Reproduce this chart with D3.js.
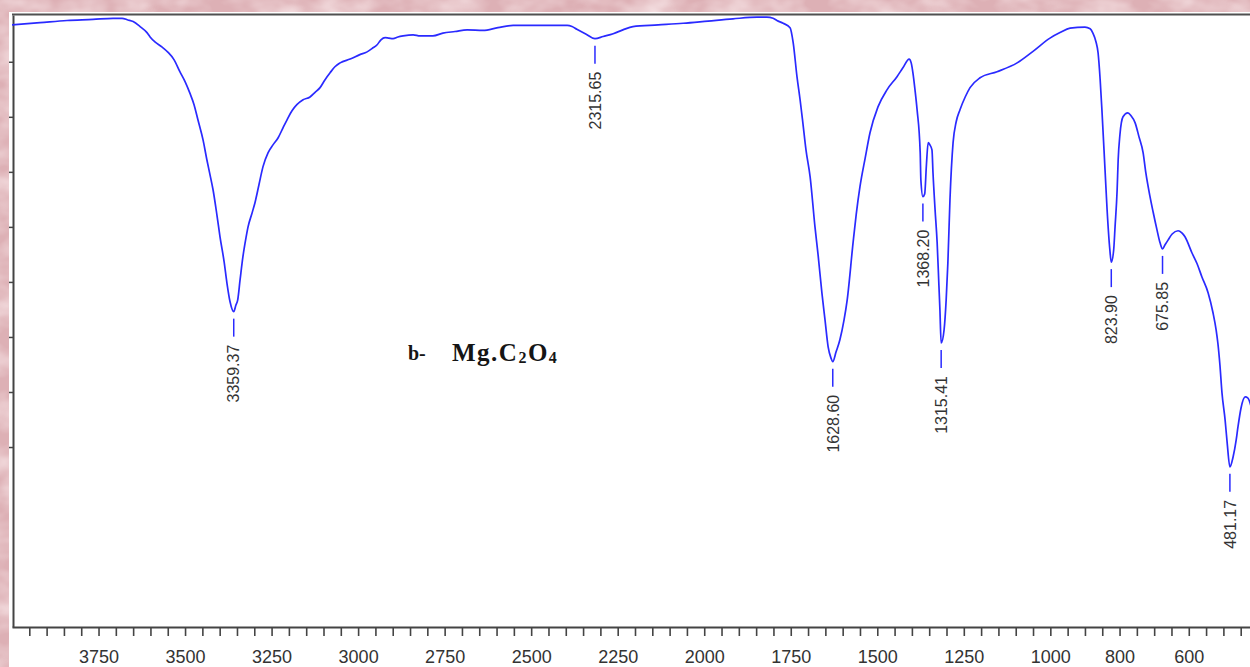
<!DOCTYPE html>
<html>
<head>
<meta charset="utf-8">
<script src="https://cdn.jsdelivr.net/npm/d3@7"></script>
<style>
  html, body { margin: 0; padding: 0; background: #e2b6ba; overflow: hidden; }
  svg { display: block; }
</style>
</head>
<body>
<script>
// ---- Data ----
const wavenumber = [4000,3919,3841,3766,3708,3682,3665,3650,3630,3610,3601,3587,3567,3549,3532,3515,3500,3486,3474,3463,3448,3437,3428,3419,3408,3399,3387,3379,3370,3359.37,3353,3348,3341,3333,3324,3318,3307,3298,3286,3275,3260,3246,3231,3217,3205,3191,3177,3159,3139,3125,3110,3096,3081,3067,3052,3023,2995,2974,2960,2945,2934,2922,2911,2899,2885,2870,2841,2821,2784,2755,2720,2685,2639,2596,2552,2474,2396,2382,2368,2341,2315.65,2292,2263,2235,2206,2133,2061,1989,1917,1847,1819,1801,1790,1772,1752,1743,1732,1723,1715,1706,1694,1680,1671,1660,1651,1642,1634,1628.60,1619,1608,1596,1587,1570,1561,1550,1535,1521,1498,1472,1443,1426,1408,1402,1397,1391,1385,1376,1374,1368.20,1363,1358,1353,1348,1342,1339,1333,1327,1322,1319,1315.41,1307,1301,1296,1290,1281,1272,1261,1246,1232,1203,1154,1096,1050,1001,972,943,900,885,877,868,862,856,851,842,836,828,823.90,817,813,807,804,799,790,776,767,755,744,732,724,712,703,692,683,675.85,669,660,648,631,620,611,591,576,562,544,530,521,516,510,504,495,489,481.17,472,463,458,449,437,429,417,406,400];
const transmittance = [96.7,97.1,97.5,97.7,97.9,97.9,97.6,97.3,96.4,95.3,94.5,93.6,92.7,91.7,90.4,88.2,86.4,84.3,82.2,79.5,75.8,72.2,69.5,66.7,62.2,58.2,53.6,49.8,46.4,44.6,45.8,46.7,50.4,54.5,58.0,60.0,62.4,64.4,67.8,70.9,73.5,74.9,76.2,78.0,79.5,81.1,82.2,83.1,83.6,84.4,85.3,86.7,88.0,89.1,89.8,90.5,91.3,91.8,92.4,93.1,94.0,94.4,94.3,94.2,94.5,94.7,94.9,94.7,94.7,95.2,95.5,95.8,95.7,96.2,96.6,96.6,96.6,96.4,95.9,95.0,94.2,94.6,95.1,95.8,96.4,96.7,97.0,97.4,97.8,98.1,98.1,97.9,97.5,97.0,96.2,93.5,87.3,83.1,78.9,74.0,69.1,60.0,54.9,48.0,43.1,38.2,36.2,35.5,37.3,39.5,43.1,46.7,57.1,62.2,67.3,72.5,77.1,81.8,84.9,87.3,88.9,90.5,89.8,88.0,84.9,81.3,73.5,68.5,65.5,66.0,71.3,75.3,74.9,74.0,69.8,63.1,57.1,49.5,44.9,38.9,41.3,46.7,53.5,64.9,75.3,79.1,81.3,83.6,85.3,87.1,88.2,89.8,91.9,94.3,95.3,96.1,96.3,96.0,95.2,93.6,91.6,86.7,81.3,70.4,63.1,55.8,53.6,55.8,60.0,66.7,72.2,76.7,80.0,80.7,80.2,78.9,76.4,73.5,69.8,65.5,62.7,59.5,57.1,56.0,56.7,57.6,58.7,59.3,58.9,58.2,55.3,53.3,50.9,48.0,44.4,41.3,38.9,34.9,29.8,24.9,20.7,16.4,18.2,21.3,23.6,27.1,29.1,28.9,26.7,24.0,22.7];

const peakWavenumbers = [3359.37, 2315.65, 1628.60, 1368.20, 1315.41, 823.90, 675.85, 481.17];
const peakLabels = ["3359.37", "2315.65", "1628.60", "1368.20", "1315.41", "823.90", "675.85", "481.17"];

const xTickLabels = [3750, 3500, 3250, 3000, 2750, 2500, 2250, 2000, 1750, 1500, 1250, 1000, 800, 600];
const yTickValues = [20, 30, 40, 50, 60, 70, 80, 90];
const xDomain = [4000, 400];
const yDomain = [-12.7, 98.5];

// ---- Drawing ----
const W = 1250, H = 667;
const svg = d3.select("body").append("svg").attr("width", W).attr("height", H);

const defs = svg.append("defs");
const f = defs.append("filter").attr("id", "marble").attr("x", 0).attr("y", 0).attr("width", 1).attr("height", 1);
f.append("feTurbulence").attr("type", "fractalNoise").attr("baseFrequency", "0.025 0.04").attr("numOctaves", 3).attr("seed", 7);
f.append("feColorMatrix").attr("type", "matrix")
  .attr("values", "0 0 0 0 0.96  0 0 0 0 0.84  0 0 0 0 0.85  1.4 0 0 0 -0.5");

svg.append("rect").attr("width", W).attr("height", H).attr("fill", "#ddb0b5");
svg.append("rect").attr("width", W).attr("height", H).attr("filter", "url(#marble)");

// white sheet
svg.append("rect").attr("x", 9).attr("y", 12).attr("width", W - 9).attr("height", H - 12).attr("fill", "#ffffff");

const x = d3.scaleLinear().domain(xDomain).range([12, 1258]);
const y = d3.scaleLinear().domain(yDomain).range([627, 15]);

// top border
svg.append("line").attr("x1", 12).attr("x2", W).attr("y1", 14.5).attr("y2", 14.5)
  .attr("stroke", "#505050").attr("stroke-width", 2);

// left axis
const yAxis = svg.append("g").attr("transform", "translate(13,0)")
  .call(d3.axisLeft(y).tickValues(yTickValues).tickSize(4).tickSizeOuter(0).tickFormat(""));
yAxis.select(".domain").attr("stroke", "#444").attr("stroke-width", 2);
yAxis.selectAll(".tick line").attr("stroke", "#444").attr("stroke-width", 1.5);

// bottom axis
const xTicks = d3.range(3950, 400, -50);
const xAxis = svg.append("g").attr("transform", "translate(0,627)")
  .call(d3.axisBottom(x).tickValues(xTicks).tickSize(9).tickSizeOuter(0).tickPadding(14)
    .tickFormat(d => xTickLabels.includes(d) ? String(d) : ""));
xAxis.select(".domain").attr("stroke", "#444").attr("stroke-width", 2);
xAxis.selectAll(".tick line").attr("stroke", "#444").attr("stroke-width", 1.6);
xAxis.selectAll(".tick text").attr("fill", "#333").attr("font-size", 18)
  .attr("font-family", "'Liberation Sans', Arial, sans-serif");

// spectrum line
const data = wavenumber.map((w, i) => ({ w, t: transmittance[i] }));
svg.append("defs").append("clipPath").attr("id", "clip")
  .append("rect").attr("x", 12).attr("y", 15).attr("width", 1246).attr("height", 612);
svg.append("path").datum(data)
  .attr("clip-path", "url(#clip)")
  .attr("fill", "none").attr("stroke", "#2a2aff").attr("stroke-width", 1.7)
  .attr("stroke-linejoin", "round")
  .attr("d", d3.line().x(d => x(d.w)).y(d => y(d.t)).curve(d3.curveMonotoneX));

// peak markers and labels
peakWavenumbers.forEach((pw, i) => {
  const pt = data.reduce((a, b) => Math.abs(b.w - pw) < Math.abs(a.w - pw) ? b : a);
  const px = x(pw), py = y(pt.t);
  svg.append("line").attr("x1", px).attr("x2", px).attr("y1", py + 7).attr("y2", py + 25)
    .attr("stroke", "#2a2aff").attr("stroke-width", 1.5);
  svg.append("text").attr("transform", `translate(${px},${py + 33}) rotate(-90)`)
    .attr("text-anchor", "end").attr("dy", "0.36em")
    .attr("font-family", "'Liberation Sans', Arial, sans-serif").attr("font-size", 16)
    .attr("fill", "#333").text(peakLabels[i]);
});

// sample annotation
const ann = svg.append("g").attr("font-family", "'Liberation Serif', 'Times New Roman', serif")
  .attr("font-weight", "bold").attr("fill", "#151515");
ann.append("text").attr("x", 408).attr("y", 360).attr("font-size", 20).text("b-");
const t2 = ann.append("text").attr("x", 452).attr("y", 361).attr("font-size", 25).attr("letter-spacing", 1.5);
t2.append("tspan").text("Mg.C");
t2.append("tspan").attr("font-size", 16).attr("dy", 2).text("2");
t2.append("tspan").attr("dy", -2).text("O");
t2.append("tspan").attr("font-size", 16).attr("dy", 2).text("4");
</script>
</body>
</html>
